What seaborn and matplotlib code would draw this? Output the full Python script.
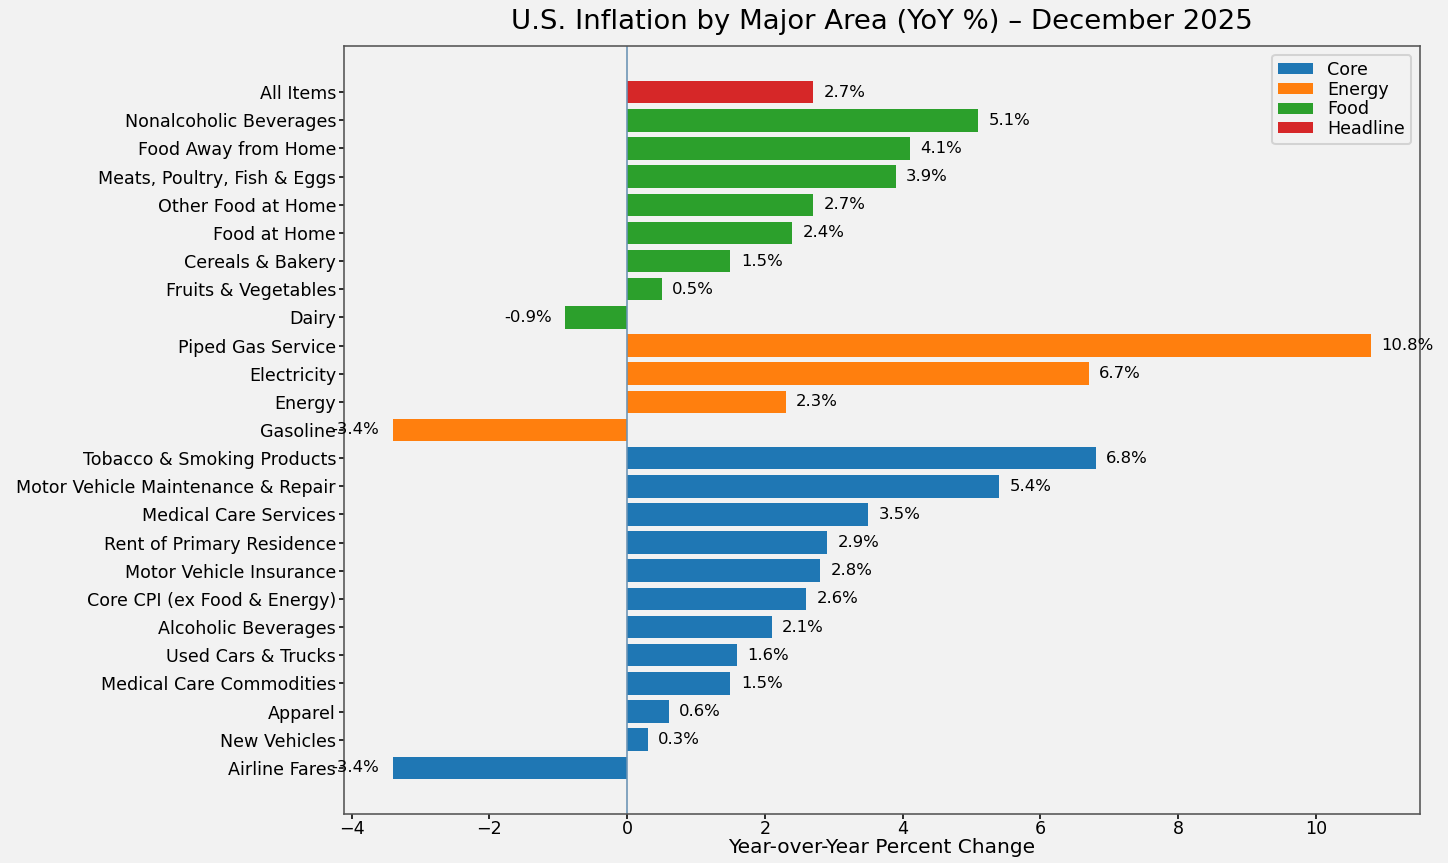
import pandas as pd
import seaborn as sns
import matplotlib.pyplot as plt

# CPI components, top to bottom as shown
items = ['All Items', 'Nonalcoholic Beverages', 'Food Away from Home',
         'Meats, Poultry, Fish & Eggs', 'Other Food at Home', 'Food at Home',
         'Cereals & Bakery', 'Fruits & Vegetables', 'Dairy',
         'Piped Gas Service', 'Electricity', 'Energy', 'Gasoline',
         'Tobacco & Smoking Products', 'Motor Vehicle Maintenance & Repair',
         'Medical Care Services', 'Rent of Primary Residence',
         'Motor Vehicle Insurance', 'Core CPI (ex Food & Energy)',
         'Alcoholic Beverages', 'Used Cars & Trucks', 'Medical Care Commodities',
         'Apparel', 'New Vehicles', 'Airline Fares']
yoy = [2.7, 5.1, 4.1, 3.9, 2.7, 2.4, 1.5, 0.5, -0.9,
       10.8, 6.7, 2.3, -3.4,
       6.8, 5.4, 3.5, 2.9, 2.8, 2.6, 2.1, 1.6, 1.5, 0.6, 0.3, -3.4]
groups = ['Headline'] + ['Food'] * 8 + ['Energy'] * 4 + ['Core'] * 12

group_order = ['Core', 'Energy', 'Food', 'Headline']
palette = {'Core': 'tab:blue', 'Energy': 'tab:orange', 'Food': 'tab:green', 'Headline': 'tab:red'}

df = pd.DataFrame({'Item': items, 'YoY': yoy, 'Group': groups})

bg = '#f2f2f2'
plt.rcParams['figure.facecolor'] = bg
plt.rcParams['axes.facecolor'] = bg
plt.rcParams['axes.edgecolor'] = '#555555'

fig, ax = plt.subplots(figsize=(10, 5.96), dpi=144.8)
sns.barplot(data=df, y='Item', x='YoY', hue='Group', hue_order=group_order,
            palette=palette, dodge=False, orient='h', saturation=1, width=0.8, ax=ax)

ax.axvline(0, color='#6a93b5', linewidth=0.8)

# value labels next to each bar
for i, v in enumerate(df['YoY']):
    if v >= 0:
        ax.text(v + 0.15, i, f'{v}%', va='center', ha='left', fontsize=8.2)
    else:
        ax.text(v - 0.2, i, f'{v}%', va='center', ha='right', fontsize=8.2)

ax.set_title('U.S. Inflation by Major Area (YoY %) – December 2025', fontsize=13.7, pad=8.5)
ax.set_xlabel('Year-over-Year Percent Change', fontsize=10, labelpad=0)
ax.set_ylabel('')
ax.margins(x=0.05)
ax.set_ylim(len(items) - 1 + 1.64, -1.64)
ax.set_xticks([-4, -2, 0, 2, 4, 6, 8, 10])
ax.tick_params(axis='both', labelsize=8.7, length=2.5, pad=1.5)
ax.tick_params(axis='x', pad=0.5)
ax.legend(loc='upper right', title=None, fontsize=8.7, labelspacing=0.1,
          borderpad=0.35, handleheight=0.6)

fig.subplots_adjust(left=0.2376, right=0.9807, bottom=0.0568, top=0.9467)
plt.savefig('out.png', dpi=144.8)
